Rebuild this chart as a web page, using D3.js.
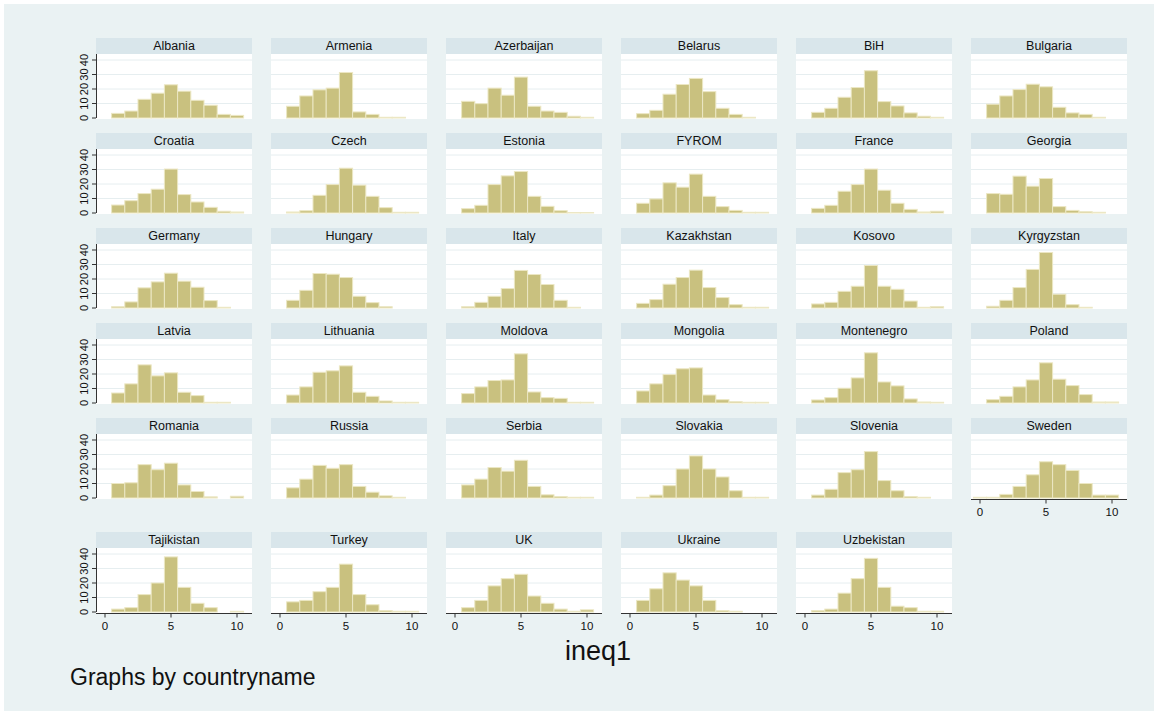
<!DOCTYPE html>
<html><head><meta charset="utf-8">
<script src="https://cdn.jsdelivr.net/npm/d3@7"></script>
<style>body{margin:0;background:#fff} text{font-family:"Liberation Sans",Arial,Helvetica,sans-serif}</style>
</head><body><svg id="c" width="1158" height="715"></svg>
<script>
const countries = ["Albania","Armenia","Azerbaijan","Belarus","BiH","Bulgaria",
  "Croatia","Czech","Estonia","FYROM","France","Georgia",
  "Germany","Hungary","Italy","Kazakhstan","Kosovo","Kyrgyzstan",
  "Latvia","Lithuania","Moldova","Mongolia","Montenegro","Poland",
  "Romania","Russia","Serbia","Slovakia","Slovenia","Sweden",
  "Tajikistan","Turkey","UK","Ukraine","Uzbekistan"];
// bin values 1..10 (percent)
const binValues = [1,2,3,4,5,6,7,8,9,10];
const swedenBinValues = [0,1,2,3,4,5,6,7,8,9,10];
const percents = [
  [3.2,4.8,12.9,17.1,22.9,18.5,12.2,8.8,2.5,1.8],
  [8.1,15.2,19.4,20.6,31.4,4.2,2.5,0.5,0.5,0],
  [11.5,9.9,20.6,15.7,28.2,8.1,4.8,3.9,1.2,0.5],
  [3.0,5.3,16.4,23.1,27.3,18.2,6.7,2.5,0.5,0],
  [3.9,6.7,14.3,21.0,32.6,11.3,8.3,3.5,1.2,0.5],
  [9.5,15.2,19.6,23.3,21.5,7.4,3.5,2.5,0.5,0],
  [5.5,8.5,13.4,16.4,30.3,12.7,7.6,3.9,1.2,0.7],
  [0.7,1.6,12.2,19.6,30.9,19.2,11.5,3.7,0.5,0.5],
  [3.0,5.3,19.6,25.6,28.6,11.5,4.6,1.6,0.3,0.3],
  [6.7,9.7,20.8,17.8,26.8,11.5,4.4,1.8,0.5,0.5],
  [3.2,5.3,15.0,19.6,30.3,15.7,6.7,2.5,0.7,1.2],
  [13.4,12.9,25.4,18.5,23.8,4.4,1.8,0.9,0.5,0],
  [0.9,4.2,13.9,18.0,24.0,18.5,14.3,5.1,0.5,0],
  [5.3,12.2,23.8,23.3,21.0,8.1,3.7,0.9,0,0],
  [0.9,3.9,8.1,13.4,25.9,23.1,16.2,5.3,0.5,0],
  [3.2,5.8,16.4,21.0,26.1,14.1,7.2,2.3,0.5,0.5],
  [2.8,3.9,11.5,15.0,29.3,15.0,12.9,4.8,0.5,0.9],
  [1.2,5.3,14.1,26.6,38.3,9.5,2.3,0.5,0,0],
  [6.9,13.2,26.3,18.7,20.8,7.4,5.1,0.5,0.5,0],
  [5.5,11.1,21.2,22.2,25.6,7.4,4.6,1.4,0.5,0.5],
  [6.5,11.1,15.5,15.9,33.9,7.6,3.7,3.2,0.5,0.5],
  [8.3,13.2,19.6,23.6,24.2,5.5,2.3,0.9,0.5,0.5],
  [2.1,3.7,10.2,17.3,34.6,14.5,11.8,2.8,0.7,0.5],
  [2.3,4.6,11.1,15.9,27.7,16.4,12.0,5.8,0.7,0.7],
  [10,10.5,23,19.5,24,9,4.5,0.8,0,1.2],
  [7,13,22.5,20.5,23,8,4,1.5,0.5,0],
  [9,13,21,18.5,26,8,2.2,1,0.5,0.5],
  [0.5,2,8.5,20,29,20,14.5,5,0.5,0.5],
  [2,6,17.5,19.5,32,12,5,1,0.5,0],
  [0.5,0.5,2.5,8,16,25,23,19,10,2,2],
  [2,3,12,20,38,17,6,3,0,0.5],
  [7,8,14,17,33,12,5,1,0.5,0.5],
  [3,8,18,23,26,11,6,2,0.5,1.5],
  [8,16,27,22,18,8,1,0.5,0,0],
  [1,2,13,23,37,17,4,3,0.5,0.5]
];
const yTicks = [0,10,20,30,40];
const xTicks = [0,5,10];
const xTitle = "ineq1";
const note = "Graphs by countryname";

const svg = d3.select("#c");
const W = 1158, H = 715;
const C = {bg:"#eaf2f3", strip:"#d9e6eb", plot:"#ffffff", grid:"#e6eef0",
  bar:"#c9c17f", barStroke:"#ece7c4", axis:"#333333", text:"#111111"};

svg.append("rect").attr("x",0).attr("y",0).attr("width",W).attr("height",H).attr("fill","#fff");
svg.append("rect").attr("x",4).attr("y",4).attr("width",W-8).attr("height",H-8).attr("fill",C.bg);

const colLeft = i => 96 + 175*i;
const panelW = 156;
const baselines = [118,213,308,403,498,612];
const plotH = 64, stripH = 16;
const ncol = 6;

countries.forEach((name, k) => {
  const r = Math.floor(k/ncol), c = k % ncol;
  const x0 = colLeft(c), base = baselines[r];
  const top = base - plotH;
  const g = svg.append("g");
  const x = d3.scaleLinear().domain([0,10]).range([x0+9, x0+141]);
  const y = d3.scaleLinear().domain([0,40]).range([base, base-58]);
  g.append("rect").attr("x",x0).attr("y",top).attr("width",panelW).attr("height",plotH+1).attr("fill",C.plot);
  g.append("rect").attr("x",x0).attr("y",top-stripH).attr("width",panelW).attr("height",stripH).attr("fill",C.strip);
  g.append("text").attr("x",x0+panelW/2).attr("y",top-stripH/2+4.4).attr("text-anchor","middle")
    .attr("font-size",12.5).attr("fill",C.text).text(name);
  g.selectAll("line.grid").data(yTicks.slice(1)).enter().append("line")
    .attr("x1",x0).attr("x2",x0+panelW).attr("y1",d=>y(d)).attr("y2",d=>y(d))
    .attr("stroke",C.grid).attr("stroke-width",1);
  const vals = percents[k];
  const bins = name === "Sweden" ? swedenBinValues : binValues;
  g.selectAll("rect.bar").data(vals.map((v,i)=>({b:bins[i],v}))).enter().append("rect")
    .attr("x",d=>x(d.b-0.5)).attr("width",d=>x(d.b+0.5)-x(d.b-0.5))
    .attr("y",d=>y(d.v)).attr("height",d=>Math.max(0,base-y(d.v)))
    .attr("fill",C.bar).attr("stroke",C.barStroke).attr("stroke-width",1)
    .attr("display",d=>d.v>0?null:"none");
  if (c === 0) {
    g.append("line").attr("x1",x0+0.5).attr("x2",x0+0.5).attr("y1",top).attr("y2",base)
      .attr("stroke",C.axis).attr("stroke-width",1);
    yTicks.forEach(t => {
      g.append("line").attr("x1",x0-4).attr("x2",x0).attr("y1",y(t)).attr("y2",y(t))
        .attr("stroke",C.axis).attr("stroke-width",1);
      g.append("text").attr("transform",`translate(${x0-8},${y(t)}) rotate(-90)`)
        .attr("text-anchor","middle").attr("font-size",11).attr("fill",C.text).text(t);
    });
  }
  const isBottom = r === 5 || name === "Sweden";
  if (isBottom) {
    const ay = base + 1.5;
    g.append("line").attr("x1",x0).attr("x2",x0+panelW).attr("y1",ay).attr("y2",ay)
      .attr("stroke",C.axis).attr("stroke-width",1);
    xTicks.forEach(t => {
      g.append("line").attr("x1",x(t)).attr("x2",x(t)).attr("y1",ay).attr("y2",ay+4)
        .attr("stroke",C.axis).attr("stroke-width",1);
      g.append("text").attr("x",x(t)).attr("y",ay+16).attr("text-anchor","middle")
        .attr("font-size",11.5).attr("fill",C.text).text(t);
    });
  }
});

svg.append("text").attr("x",598).attr("y",660).attr("text-anchor","middle")
  .attr("font-size",27).attr("fill",C.text).text(xTitle);
svg.append("text").attr("x",70).attr("y",685).attr("text-anchor","start")
  .attr("font-size",23).attr("fill",C.text).text(note);
</script>
</body></html>
